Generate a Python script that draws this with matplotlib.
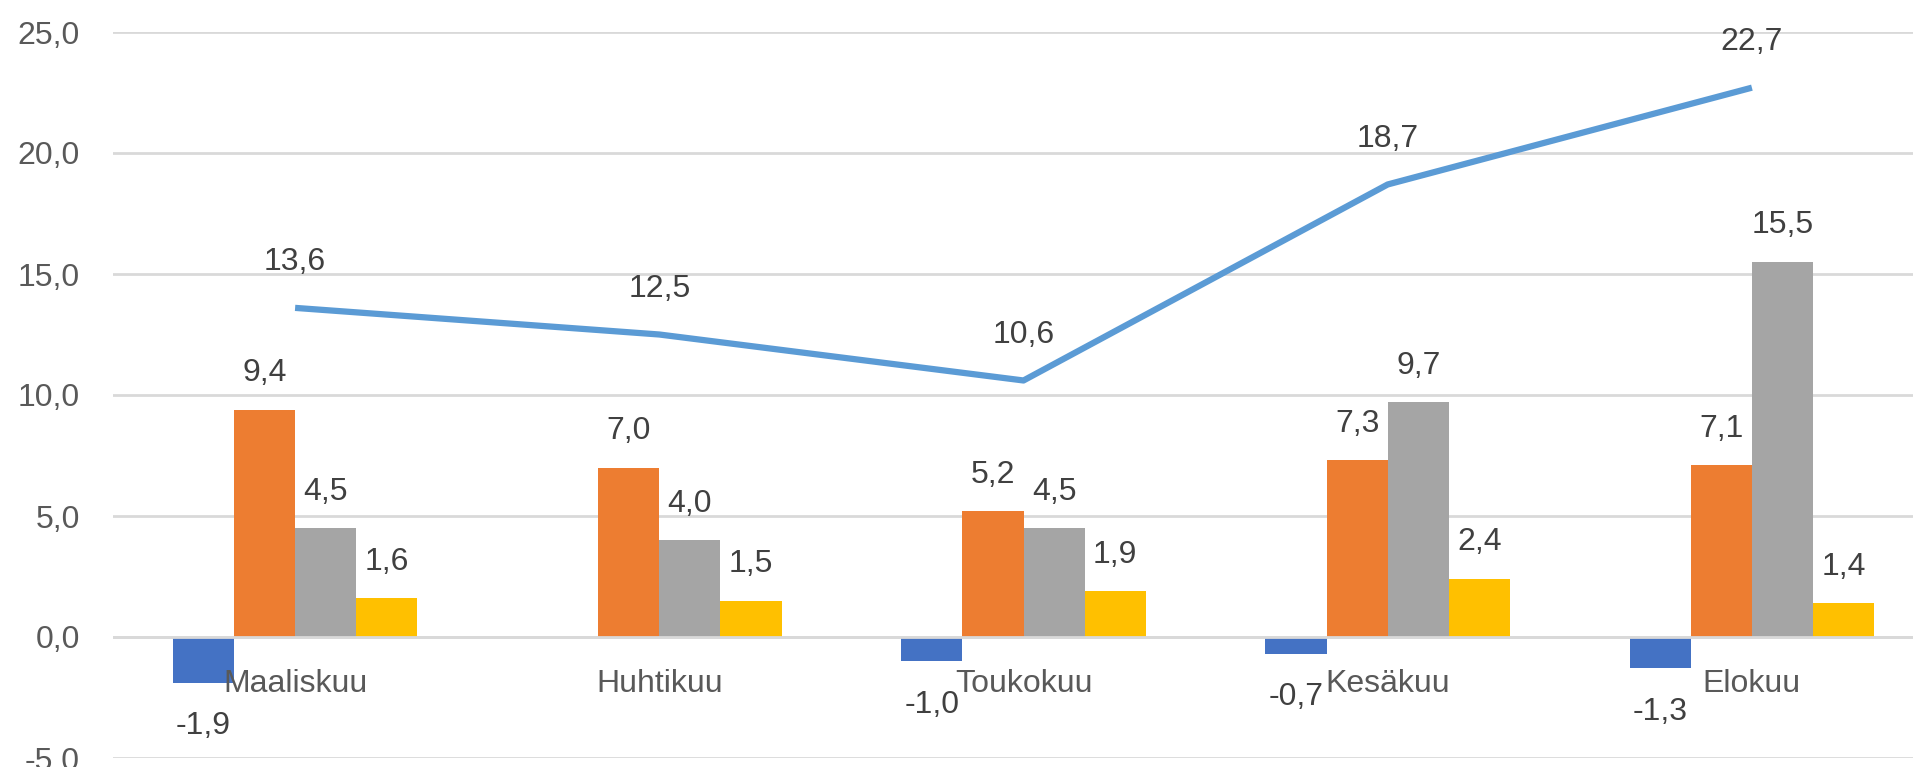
import numpy as np
import matplotlib
matplotlib.use("Agg")
import matplotlib.pyplot as plt

# kuukaudet ja sarjat
kuukaudet = ["Maaliskuu", "Huhtikuu", "Toukokuu", "Kesäkuu", "Elokuu"]
sininen = [-1.9, np.nan, -1.0, -0.7, -1.3]
oranssi = [9.4, 7.0, 5.2, 7.3, 7.1]
harmaa = [4.5, 4.0, 4.5, 9.7, 15.5]
keltainen = [1.6, 1.5, 1.9, 2.4, 1.4]
viiva = [13.6, 12.5, 10.6, 18.7, 22.7]
y_tikit = [-5, 0, 5, 10, 15, 20, 25]

def muoto(v):
    return f"{v:.1f}".replace(".", ",")

plt.rcParams["font.family"] = ["Liberation Sans", "DejaVu Sans"]
fig = plt.figure(figsize=(19.13, 7.67), dpi=100)
# akseli jatkuu oikealla kuvan reunan yli (rajattu kuva)
ax = fig.add_axes([113 / 1913, 9 / 767, 1821 / 1913, 726 / 767])

x = np.arange(len(kuukaudet))
leveys = 0.168
sarjat = [(sininen, "#4472C4"), (oranssi, "#ED7D31"), (harmaa, "#A5A5A5"), (keltainen, "#FFC000")]

for k, (arvot, vari) in enumerate(sarjat):
    paikat = x + (k - 1.5) * leveys
    ax.bar(paikat, arvot, width=leveys, color=vari, zorder=2)
    for px, v in zip(paikat, arvot):
        if np.isnan(v):
            continue
        siirto = 40 if v >= 0 else -40
        ax.annotate(muoto(v), (px, v), xytext=(0, siirto), textcoords="offset pixels",
                    ha="center", va="center_baseline", fontsize=23, color="#404040", zorder=5)

ax.plot(x, viiva, color="#5B9BD5", linewidth=4.5, solid_joinstyle="round",
        solid_capstyle="butt", zorder=3)
for px, v in zip(x, viiva):
    ax.annotate(muoto(v), (px, v), xytext=(0, 49), textcoords="offset pixels",
                ha="center", va="center_baseline", fontsize=23, color="#404040", zorder=5)

# kuukausien nimet nollaviivan alle
for px, nimi in zip(x, kuukaudet):
    ax.annotate(nimi, (px, 0), xytext=(0, -43), textcoords="offset pixels",
                ha="center", va="center_baseline", fontsize=23, color="#595959", zorder=6)

ax.set_xlim(-0.5, 4.5)
ax.set_ylim(-5, 25)
ax.set_yticks(y_tikit)
ax.set_yticklabels([muoto(v) for v in y_tikit], fontsize=23, color="#595959")
ax.set_xticks([])
ax.tick_params(axis="y", length=0, pad=24)
ax.grid(axis="y", color="#D9D9D9", linewidth=2, zorder=0)
ax.set_axisbelow(True)
ax.axhline(0, color="#D9D9D9", linewidth=2, zorder=4)
for spine in ax.spines.values():
    spine.set_visible(False)

plt.savefig("out.png", dpi=100)
plt.close()
